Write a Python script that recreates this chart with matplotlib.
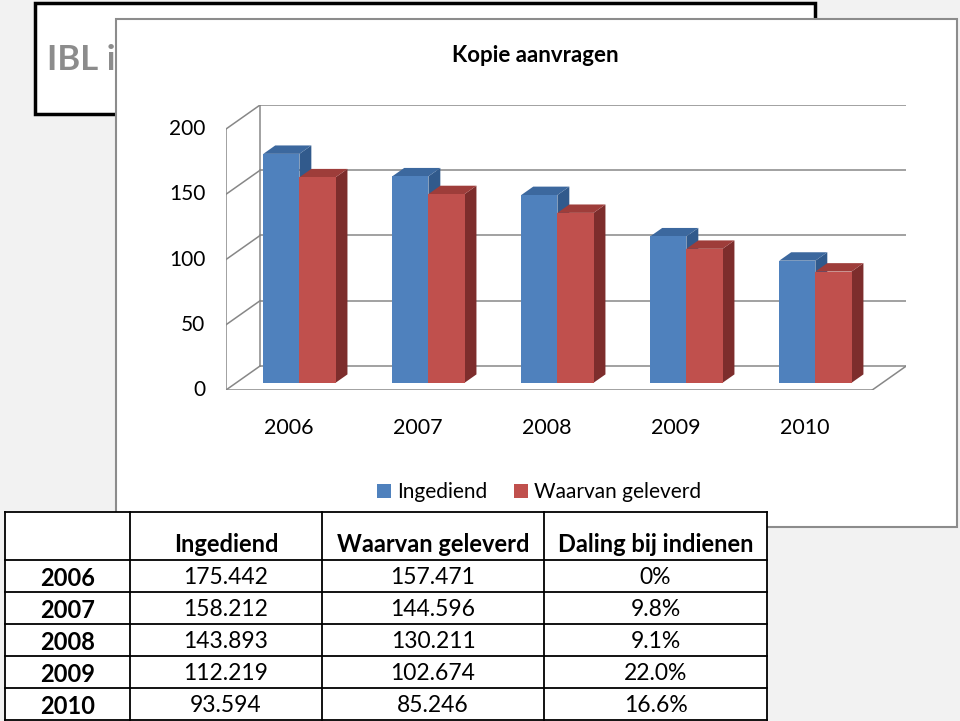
import matplotlib
matplotlib.use("Agg")
from matplotlib import pyplot as plt
from matplotlib.patches import Rectangle, Polygon, Patch

plt.rcParams["font.family"] = ["Lato", "DejaVu Sans"]

# data from the slide
years = ["2006", "2007", "2008", "2009", "2010"]
ingediend = [175.442, 158.212, 143.893, 112.219, 93.594]
geleverd = [157.471, 144.596, 130.211, 102.674, 85.246]
daling = ["0%", "9.8%", "9.1%", "22.0%", "16.6%"]
yticks = [0, 50, 100, 150, 200]
headers = ["", "Ingediend", "Waarvan geleverd", "Daling bij indienen"]
series_names = ["Ingediend", "Waarvan geleverd"]

front_cols = ["#4F81BD", "#C0504D"]
top_cols = ["#3C689E", "#9E3D3A"]
side_cols = ["#315A8C", "#7D2D2C"]
grid_col = "#878787"

W, H = 960, 721
fig = plt.figure(figsize=(W / 100, H / 100), dpi=100)
fig.patch.set_facecolor("#f2f2f2")

# slide background: title box + chart panel (pixel coords)
bg = fig.add_axes([0, 0, 1, 1], zorder=0)
bg.set_xlim(0, W)
bg.set_ylim(H, 0)
bg.axis("off")
bg.add_patch(Rectangle((35, 3), 780, 111, fc="white", ec="black", lw=2.5, zorder=1))
bg.text(47, 60, "IBL i", color="#8c8c8c", fontsize=25, fontweight="bold",
        va="center", ha="left", zorder=2)
bg.add_patch(Rectangle((116, 19), 841, 508, fc="white", ec="#8c8c8c", lw=1.5, zorder=3))
bg.text(535, 55, "Kopie aanvragen", fontsize=16, fontweight="bold",
        ha="center", va="center", zorder=4)

# 3d-looking bar chart
DX, DY = 0.264, 18.4          # depth of the walls (category units, value units)
x0, x1 = -0.49, 4.52          # floor extent
fx, fy = 0.30 * DX, 0.30 * DY  # bars stand a bit behind the front edge
bdx, bdy = 0.35 * DX, 0.35 * DY
bw = 0.28

ax = fig.add_axes([226 / W, 1 - 390 / H, (906.3 - 226) / W, (390 - 105) / H], zorder=1)
ax.set_xlim(x0, x1 + DX)
ax.set_ylim(0, yticks[-1] + DY)
ax.axis("off")

lw = 1.1
for v in yticks:
    ax.plot([x0 + DX, x1 + DX], [v + DY, v + DY], color=grid_col, lw=lw, zorder=1)
    ax.plot([x0, x0 + DX], [v, v + DY], color=grid_col, lw=lw, zorder=1)
    ax.annotate(str(v), xy=(x0, v), xytext=(-15, 0), textcoords="offset points",
                ha="right", va="center", fontsize=15, annotation_clip=False)
ax.plot([x0, x0], [0, yticks[-1]], color=grid_col, lw=lw, zorder=1)
ax.plot([x0 + DX, x0 + DX], [DY, yticks[-1] + DY], color=grid_col, lw=lw, zorder=1)
ax.plot([x0, x1], [0, 0], color=grid_col, lw=lw, zorder=1)
ax.plot([x1, x1 + DX], [0, DY], color=grid_col, lw=lw, zorder=1)

for i, year in enumerate(years):
    for s, vals in enumerate([ingediend, geleverd]):
        v = vals[i]
        left = i - bw + s * bw + fx
        top = fy + v
        ax.add_patch(Polygon([(left + bw, fy), (left + bw + bdx, fy + bdy),
                              (left + bw + bdx, top + bdy), (left + bw, top)],
                             closed=True, fc=side_cols[s], ec="none", zorder=2 + s))
        ax.add_patch(Polygon([(left, top), (left + bw, top),
                              (left + bw + bdx, top + bdy), (left + bdx, top + bdy)],
                             closed=True, fc=top_cols[s], ec="none", zorder=2 + s))
        ax.add_patch(Rectangle((left, fy), bw, v, fc=front_cols[s], ec="none", zorder=2 + s))
    ax.annotate(year, xy=(i, 0), xytext=(0, -27), textcoords="offset points",
                ha="center", va="center", fontsize=15.5, annotation_clip=False)

handles = [Patch(fc=front_cols[0]), Patch(fc=front_cols[1])]
fig.legend(handles, series_names, loc="center", bbox_to_anchor=(539 / W, 1 - 492 / H),
           ncol=2, frameon=False, fontsize=15, handlelength=0.65, handleheight=0.65,
           handletextpad=0.3, columnspacing=1.3)

# table on top of the slide
tb = fig.add_axes([0, 0, 1, 1], zorder=3)
tb.set_xlim(0, W)
tb.set_ylim(H, 0)
tb.axis("off")
col_edges = [5, 130, 322, 544, 767]
row_edges = [512, 560, 592, 624, 656, 688, 720]
tb.add_patch(Rectangle((col_edges[0], row_edges[0]), col_edges[-1] - col_edges[0],
                       row_edges[-1] - row_edges[0], fc="white", ec="none"))
for x in col_edges:
    tb.plot([x, x], [row_edges[0], row_edges[-1]], color="black", lw=1.3)
for y in row_edges:
    tb.plot([col_edges[0], col_edges[-1]], [y, y], color="black", lw=1.3)

for c, h in enumerate(headers):
    xc = (col_edges[c] + col_edges[c + 1]) / 2
    tb.text(xc, row_edges[1] - 4, h, ha="center", va="bottom", fontsize=17, fontweight="bold")
for r in range(len(years)):
    yc = (row_edges[r + 1] + row_edges[r + 2]) / 2 + 2
    cells = [years[r], f"{ingediend[r]:.3f}", f"{geleverd[r]:.3f}", daling[r]]
    for c, t in enumerate(cells):
        xc = (col_edges[c] + col_edges[c + 1]) / 2
        if c == 0:
            tb.text(xc, yc, t, ha="center", va="center", fontsize=17, fontweight="bold")
        else:
            tb.text(xc, yc, t, ha="center", va="center", fontsize=16.5)

fig.savefig("out.png", dpi=100, facecolor=fig.get_facecolor())
